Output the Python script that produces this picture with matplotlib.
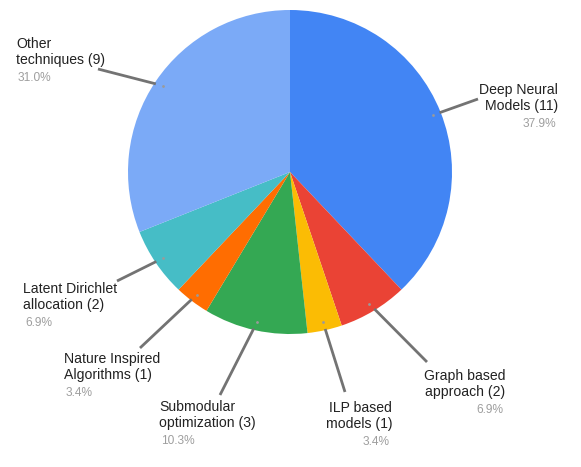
import numpy as np
import matplotlib.pyplot as plt

plt.rcParams['font.family'] = ['Liberation Sans', 'DejaVu Sans']

labels = ["Deep Neural\nModels (11)", "Graph based\napproach (2)", "ILP based\nmodels (1)",
          "Submodular\noptimization (3)", "Nature Inspired\nAlgorithms (1)",
          "Latent Dirichlet\nallocation (2)", "Other\ntechniques (9)"]
counts = [11, 2, 1, 3, 1, 2, 9]
colors = ["#4285F4", "#EA4335", "#FBBC04", "#34A853", "#FF6D01", "#46BDC6", "#7BAAF7"]

# label layout in pixels: (text x, first line y, alignment, leader line end x, y)
layout = [(558, 89, "right", 478, 99),
          (505, 375, "right", 427, 362),
          (392, 407, "right", 345, 392),
          (159, 406, "left", 220, 395),
          (64, 358, "left", 140, 348),
          (23, 288, "left", 117, 281),
          (16, 43, "left", 98, 69)]

W, H = 581, 467
cx, cy, R = 290, 172, 162

fig = plt.figure(figsize=(W / 100, H / 100), dpi=100)
ax = fig.add_axes([0, 0, 1, 1])

wedges, _ = ax.pie(counts, colors=colors, startangle=-90, counterclock=True,
                   center=(cx, cy), radius=R, frame=True,
                   wedgeprops=dict(linewidth=0))
ax.set_xlim(0, W)
ax.set_ylim(H, 0)
ax.axis("off")

total = sum(counts)
for w, lab, n, (tx, ty, ha, lx, ly) in zip(wedges, labels, counts, layout):
    mid = np.deg2rad((w.theta1 + w.theta2) / 2)
    dx, dy = cx + 0.95 * R * np.cos(mid), cy + 0.95 * R * np.sin(mid)
    ax.plot(dx, dy, "o", color="#9a9a9a", markersize=2, markeredgewidth=0, zorder=5)
    vx, vy = lx - dx, ly - dy
    d = np.hypot(vx, vy)
    sx, sy = dx + vx / d * 7, dy + vy / d * 7
    ax.plot([sx, lx], [sy, ly], color="#737373", linewidth=2, zorder=4,
            solid_capstyle="butt")
    ax.text(tx, ty + 9, lab, ha=ha, va="center", fontsize=10.1, color="#222222",
            linespacing=1.2, multialignment=ha)
    pct = f"{100 * n / total:.1f}%"
    ax.text(tx + (2 if ha == "left" else -2), ty + 35, pct, ha=ha, va="center",
            fontsize=8.6, color="#9e9e9e")

fig.savefig("out.png", dpi=100)
